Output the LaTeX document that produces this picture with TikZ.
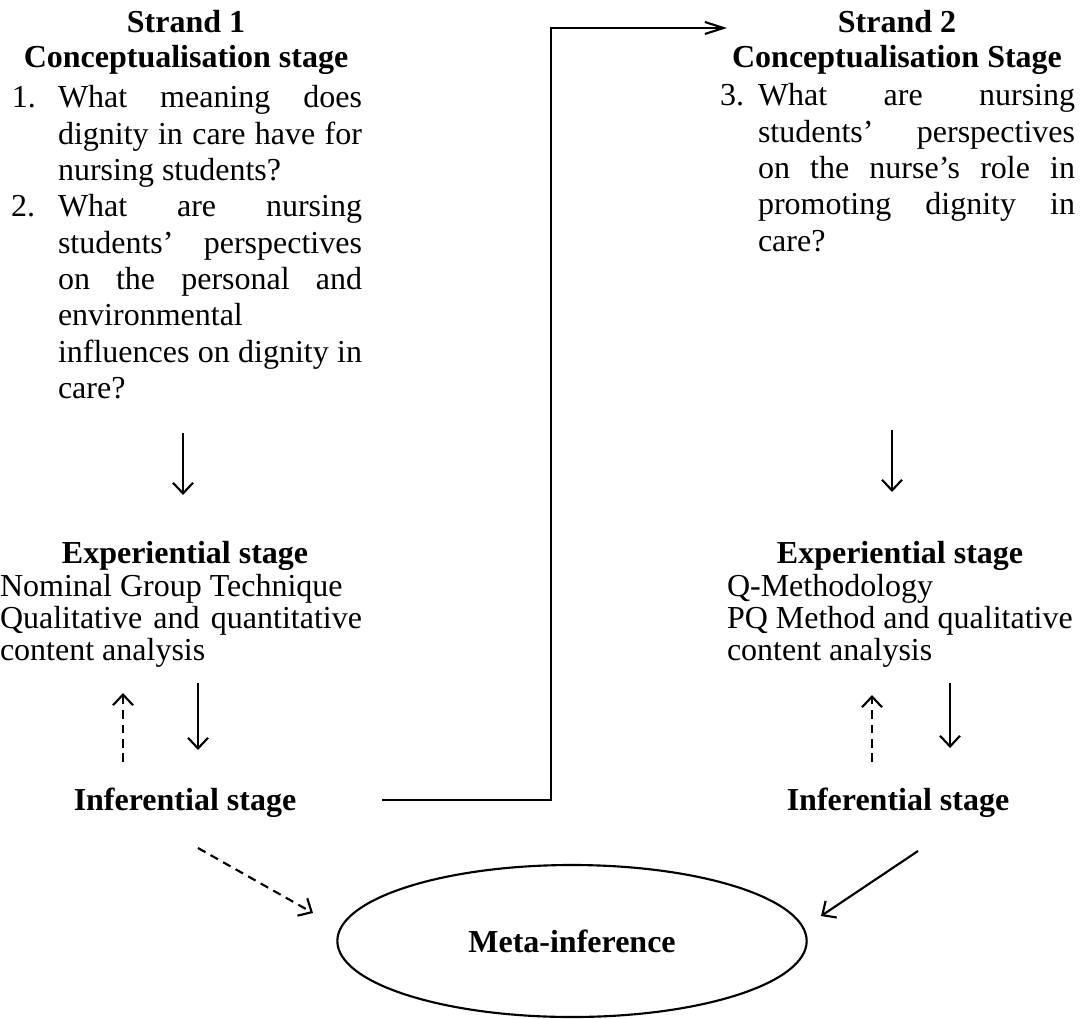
\documentclass[tikz,border=0pt]{standalone}
\usepackage{fontspec}
\setmainfont{Liberation Serif}
\usetikzlibrary{arrows.meta,shapes.geometric}
% a line stretched to the full width of its paragraph
\newcommand{\jline}[1]{\makebox[\hsize][s]{\spaceskip=0pt\xspaceskip=0pt\relax #1}}
\begin{document}
\begin{tikzpicture}[x=0.375pt,y=-0.375pt,
  txt/.style={inner sep=0pt,outer sep=0pt,font=\fontsize{12}{13.6}\selectfont},
  head/.style={inner sep=0pt,outer sep=0pt,font=\fontsize{12}{13.6}\selectfont\bfseries,anchor=base},
  para/.style={txt,anchor=base west,align=flush left},
  lowpara/.style={inner sep=0pt,outer sep=0pt,font=\fontsize{12}{12}\selectfont,anchor=base west,align=flush left},
  flow/.style={line width=0.8pt,-{Straight Barb[length=4pt,width=7.5pt,line width=0.8pt]}},
  back/.style={flow,dash pattern=on 3.2pt off 2.2pt},
  link/.style={line width=0.8pt,-{Straight Barb[length=7pt,width=4.5pt,line width=0.8pt]}},
]
\useasboundingbox (0,0) rectangle (1085,1018);

% ---------- Strand 1 ----------
\node[head] (s1) at (186,33) {Strand 1};
\node[head] (c1head) at (186,68) {Conceptualisation stage};
\node[txt,anchor=base west] (n1) at (12,108) {1.};
\node[para,text width=114pt] (q1) at (58,108) {\jline{What meaning does}\\\jline{dignity in care have for}\\nursing students?};
\node[txt,anchor=base west] (n2) at (11,217) {2.};
\node[para,text width=114pt] (q2) at (58,217) {\jline{What are nursing}\\\jline{students’ perspectives}\\\jline{on the personal and}\\environmental\\\jline{influences on dignity in}\\care?};

\node[head] (e1) at (185,563) {Experiential stage};
\node[lowpara,text width=135.75pt] (m1) at (0,596) {Nominal Group Technique\\\jline{Qualitative and quantitative}\\content analysis};
\node[head] (i1) at (185,810) {Inferential stage};

% ---------- Strand 2 ----------
\node[head] (s2) at (897,33) {Strand 2};
\node[head] (c2head) at (897,68) {Conceptualisation Stage};
\node[txt,anchor=base west] (n3) at (720,106) {3.};
\node[para,text width=118.9pt] (q3) at (758,106) {\jline{What are nursing}\\\jline{students’ perspectives}\\\jline{on the nurse’s role in}\\\jline{promoting dignity in}\\care?};

\node[head] (e2) at (900,563) {Experiential stage};
\node[lowpara,text width=135pt] (m2) at (727,596) {Q-Methodology\\PQ Method and qualitative\\content analysis};
\node[head] (i2) at (898,810) {Inferential stage};

% ---------- Meta-inference ----------
\node[ellipse,draw,line width=0.8pt,inner sep=0pt,minimum width=176pt,minimum height=57pt,
      font=\fontsize{12}{13.6}\selectfont\bfseries] (meta) at (572,941) {Meta-inference};

% ---------- connector end points ----------
\coordinate (d1a) at (183,433);  \coordinate (d1b) at (183,495);
\coordinate (d2a) at (892,430);  \coordinate (d2b) at (892,492);
\coordinate (u1a) at (123,762);  \coordinate (u1b) at (123,693);
\coordinate (v1a) at (198,683);  \coordinate (v1b) at (198,750);
\coordinate (u2a) at (872,762);  \coordinate (u2b) at (872,695);
\coordinate (v2a) at (950,683);  \coordinate (v2b) at (950,748);
\coordinate (k0) at (382,800);   \coordinate (k1) at (551,800);
\coordinate (k2) at (551,28);    \coordinate (k3) at (727,28);
\coordinate (g1a) at (198,848);  \coordinate (g1b) at (313,913);
\coordinate (g2a) at (918,851);  \coordinate (g2b) at (821,916);

% ---------- connectors ----------
\draw[flow] (d1a) -- (d1b);
\draw[flow] (d2a) -- (d2b);
\draw[back] (u1a) -- (u1b);
\draw[flow] (v1a) -- (v1b);
\draw[back] (u2a) -- (u2b);
\draw[flow] (v2a) -- (v2b);
\draw[link] (k0) -- (k1) -- (k2) -- (k3);
\draw[back] (g1a) -- (g1b);
\draw[flow] (g2a) -- (g2b);
\end{tikzpicture}
\end{document}
